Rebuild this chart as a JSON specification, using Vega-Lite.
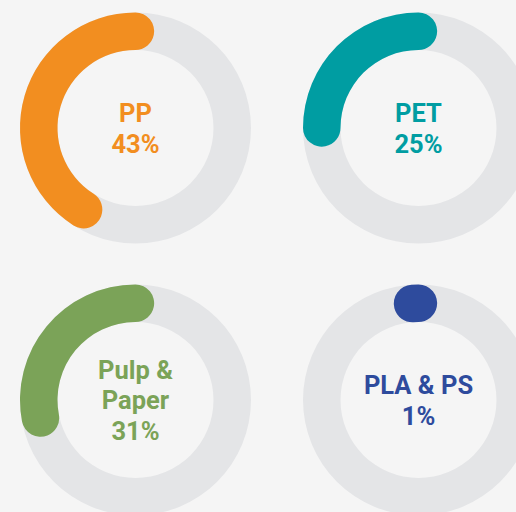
{
  "$schema": "https://vega.github.io/schema/vega-lite/v6.json",
  "background": "#f5f5f5",
  "padding": {"left": 15.5, "top": 8, "right": 0, "bottom": 0},
  "datasets": {
    "donuts": [
      {"material": "PP", "arc": 0.41, "label": "PP\n43%"},
      {"material": "PET", "arc": 0.25, "label": "PET\n25%"},
      {"material": "Pulp & Paper", "arc": 0.28, "label": "Pulp &\nPaper\n31%"},
      {"material": "PLA & PS", "arc": 0.01, "label": "PLA & PS\n1%"}
    ]
  },
  "spacing": 32,
  "vconcat": [
    {
      "spacing": 43,
      "hconcat": [
        {
          "data": {"name": "donuts"},
          "transform": [{"filter": "datum.material === 'PP'"}],
          "width": 240, "height": 240,
          "layer": [
            {"mark": {"type": "arc", "outerRadius": 115.5, "innerRadius": 78, "color": "#e4e5e7"},
             "encoding": {"theta": {"datum": 1, "type": "quantitative", "scale": {"domain": [0, 1], "range": [6.283185, 0]}, "stack": null}, "theta2": {"datum": 0}}},
            {"mark": {"type": "arc", "outerRadius": 115.5, "innerRadius": 78, "cornerRadius": 18.75, "thetaOffset": -0.194, "theta2Offset": 0.194},
             "encoding": {"theta": {"field": "arc", "type": "quantitative", "stack": null}, "theta2": {"datum": 0},
               "color": {"field": "material", "type": "nominal", "scale": {"domain": ["PP", "PET", "Pulp & Paper", "PLA & PS"], "range": ["#f28e20", "#009da2", "#7ba358", "#2e4b9d"]}, "legend": null}}},
            {"mark": {"type": "text", "font": "Roboto", "fontSize": 25.5, "fontWeight": "bold", "lineBreak": "\n", "lineHeight": 31, "align": "center", "baseline": "middle", "dy": -14.5},
             "encoding": {"text": {"field": "label"},
               "color": {"field": "material", "type": "nominal", "scale": {"domain": ["PP", "PET", "Pulp & Paper", "PLA & PS"], "range": ["#f28e20", "#009da2", "#7ba358", "#2e4b9d"]}, "legend": null}}}
          ]
        },
        {
          "data": {"name": "donuts"},
          "transform": [{"filter": "datum.material === 'PET'"}],
          "width": 240, "height": 240,
          "layer": [
            {"mark": {"type": "arc", "outerRadius": 115.5, "innerRadius": 78, "color": "#e4e5e7"},
             "encoding": {"theta": {"datum": 1, "type": "quantitative", "scale": {"domain": [0, 1], "range": [6.283185, 0]}, "stack": null}, "theta2": {"datum": 0}}},
            {"mark": {"type": "arc", "outerRadius": 115.5, "innerRadius": 78, "cornerRadius": 18.75, "thetaOffset": -0.194, "theta2Offset": 0.194},
             "encoding": {"theta": {"field": "arc", "type": "quantitative", "stack": null}, "theta2": {"datum": 0},
               "color": {"field": "material", "type": "nominal", "scale": {"domain": ["PP", "PET", "Pulp & Paper", "PLA & PS"], "range": ["#f28e20", "#009da2", "#7ba358", "#2e4b9d"]}, "legend": null}}},
            {"mark": {"type": "text", "font": "Roboto", "fontSize": 25.5, "fontWeight": "bold", "lineBreak": "\n", "lineHeight": 31, "align": "center", "baseline": "middle", "dy": -14.5},
             "encoding": {"text": {"field": "label"},
               "color": {"field": "material", "type": "nominal", "scale": {"domain": ["PP", "PET", "Pulp & Paper", "PLA & PS"], "range": ["#f28e20", "#009da2", "#7ba358", "#2e4b9d"]}, "legend": null}}}
          ]
        }
      ]
    },
    {
      "spacing": 43,
      "hconcat": [
        {
          "data": {"name": "donuts"},
          "transform": [{"filter": "datum.material === 'Pulp & Paper'"}],
          "width": 240, "height": 240,
          "layer": [
            {"mark": {"type": "arc", "outerRadius": 115.5, "innerRadius": 78, "color": "#e4e5e7"},
             "encoding": {"theta": {"datum": 1, "type": "quantitative", "scale": {"domain": [0, 1], "range": [6.283185, 0]}, "stack": null}, "theta2": {"datum": 0}}},
            {"mark": {"type": "arc", "outerRadius": 115.5, "innerRadius": 78, "cornerRadius": 18.75, "thetaOffset": -0.194, "theta2Offset": 0.194},
             "encoding": {"theta": {"field": "arc", "type": "quantitative", "stack": null}, "theta2": {"datum": 0},
               "color": {"field": "material", "type": "nominal", "scale": {"domain": ["PP", "PET", "Pulp & Paper", "PLA & PS"], "range": ["#f28e20", "#009da2", "#7ba358", "#2e4b9d"]}, "legend": null}}},
            {"mark": {"type": "text", "font": "Roboto", "fontSize": 25.5, "fontWeight": "bold", "lineBreak": "\n", "lineHeight": 30.5, "align": "center", "baseline": "middle", "dy": -29.5},
             "encoding": {"text": {"field": "label"},
               "color": {"field": "material", "type": "nominal", "scale": {"domain": ["PP", "PET", "Pulp & Paper", "PLA & PS"], "range": ["#f28e20", "#009da2", "#7ba358", "#2e4b9d"]}, "legend": null}}}
          ]
        },
        {
          "data": {"name": "donuts"},
          "transform": [{"filter": "datum.material === 'PLA & PS'"}],
          "width": 240, "height": 240,
          "layer": [
            {"mark": {"type": "arc", "outerRadius": 115.5, "innerRadius": 78, "color": "#e4e5e7"},
             "encoding": {"theta": {"datum": 1, "type": "quantitative", "scale": {"domain": [0, 1], "range": [6.283185, 0]}, "stack": null}, "theta2": {"datum": 0}}},
            {"mark": {"type": "arc", "outerRadius": 115.5, "innerRadius": 78, "cornerRadius": 18.75, "thetaOffset": -0.194, "theta2Offset": 0.194},
             "encoding": {"theta": {"field": "arc", "type": "quantitative", "stack": null}, "theta2": {"datum": 0},
               "color": {"field": "material", "type": "nominal", "scale": {"domain": ["PP", "PET", "Pulp & Paper", "PLA & PS"], "range": ["#f28e20", "#009da2", "#7ba358", "#2e4b9d"]}, "legend": null}}},
            {"mark": {"type": "text", "font": "Roboto", "fontSize": 25.5, "fontWeight": "bold", "lineBreak": "\n", "lineHeight": 31, "align": "center", "baseline": "middle", "dy": -14.5},
             "encoding": {"text": {"field": "label"},
               "color": {"field": "material", "type": "nominal", "scale": {"domain": ["PP", "PET", "Pulp & Paper", "PLA & PS"], "range": ["#f28e20", "#009da2", "#7ba358", "#2e4b9d"]}, "legend": null}}}
          ]
        }
      ]
    }
  ],
  "config": {"view": {"stroke": null}}
}
